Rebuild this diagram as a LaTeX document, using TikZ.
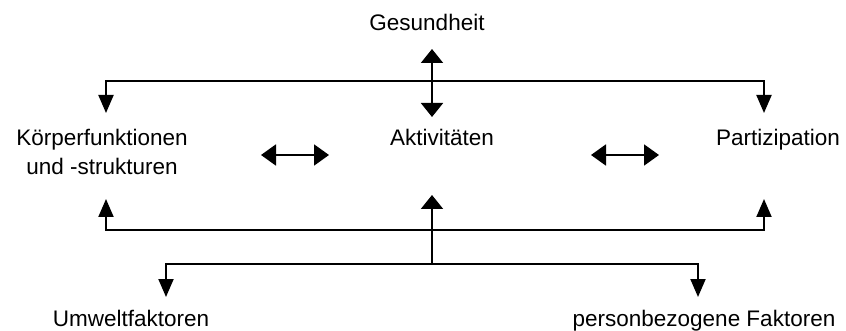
\documentclass[tikz,border=0pt]{standalone}
\usepackage{fontspec}
\setmainfont{Liberation Sans}
\usetikzlibrary{arrows.meta}
\begin{document}
\begin{tikzpicture}[x=1pt,y=-1pt,
  lbl/.style={font=\fontsize{22.5}{29}\selectfont, inner sep=0pt, anchor=base, align=center},
  conn/.style={line width=2pt, black},
  bighead/.style={-{Triangle[length=14pt,width=22pt]}},
  bigboth/.style={{Triangle[length=14pt,width=22pt]}-{Triangle[length=14pt,width=22pt]}},
  sidehead/.style={-{Triangle[length=18pt,width=15pt]}},
  horboth/.style={{Triangle[length=15pt,width=21pt]}-{Triangle[length=15pt,width=21pt]}}]
\useasboundingbox (0,0) rectangle (846,331);
% text nodes
\node[lbl] (ges) at (427,31) {Gesundheit};
\node[lbl] (koerp) at (102,175) {Körperfunktionen\\und -strukturen};
\node[lbl] (akt) at (442,146) {Aktivitäten};
\node[lbl] (part) at (778,146) {Partizipation};
\node[lbl] (umw) at (131,326) {Umweltfaktoren};
\node[lbl] (pers) at (704,326) {personbezogene Faktoren};
% coordinates
\coordinate (gtip) at (432,49);
\coordinate (atip) at (432,117);
\coordinate (tl) at (106,81);
\coordinate (tr) at (764,81);
\coordinate (tlt) at (106,113);
\coordinate (trt) at (764,113);
\coordinate (h1a) at (261,155);
\coordinate (h1b) at (329,155);
\coordinate (h2a) at (591,155);
\coordinate (h2b) at (659,155);
\coordinate (bl) at (106,230);
\coordinate (br) at (764,230);
\coordinate (blt) at (106,199);
\coordinate (brt) at (764,199);
\coordinate (cb) at (432,264);
\coordinate (ct) at (432,195);
\coordinate (ll) at (166,264);
\coordinate (lr) at (698,264);
\coordinate (llt) at (166,297);
\coordinate (lrt) at (698,297);
% connectors
\draw[conn,bigboth] (gtip) -- (atip);
\draw[conn,sidehead] (tr) -- (tl) -- (tlt);
\draw[conn,sidehead] (tl) -- (tr) -- (trt);
\draw[conn,horboth] (h1a) -- (h1b);
\draw[conn,horboth] (h2a) -- (h2b);
\draw[conn,sidehead] (br) -- (bl) -- (blt);
\draw[conn,sidehead] (bl) -- (br) -- (brt);
\draw[conn,bighead] (cb) -- (ct);
\draw[conn,sidehead] (lr) -- (ll) -- (llt);
\draw[conn,sidehead] (ll) -- (lr) -- (lrt);
\end{tikzpicture}
\end{document}
